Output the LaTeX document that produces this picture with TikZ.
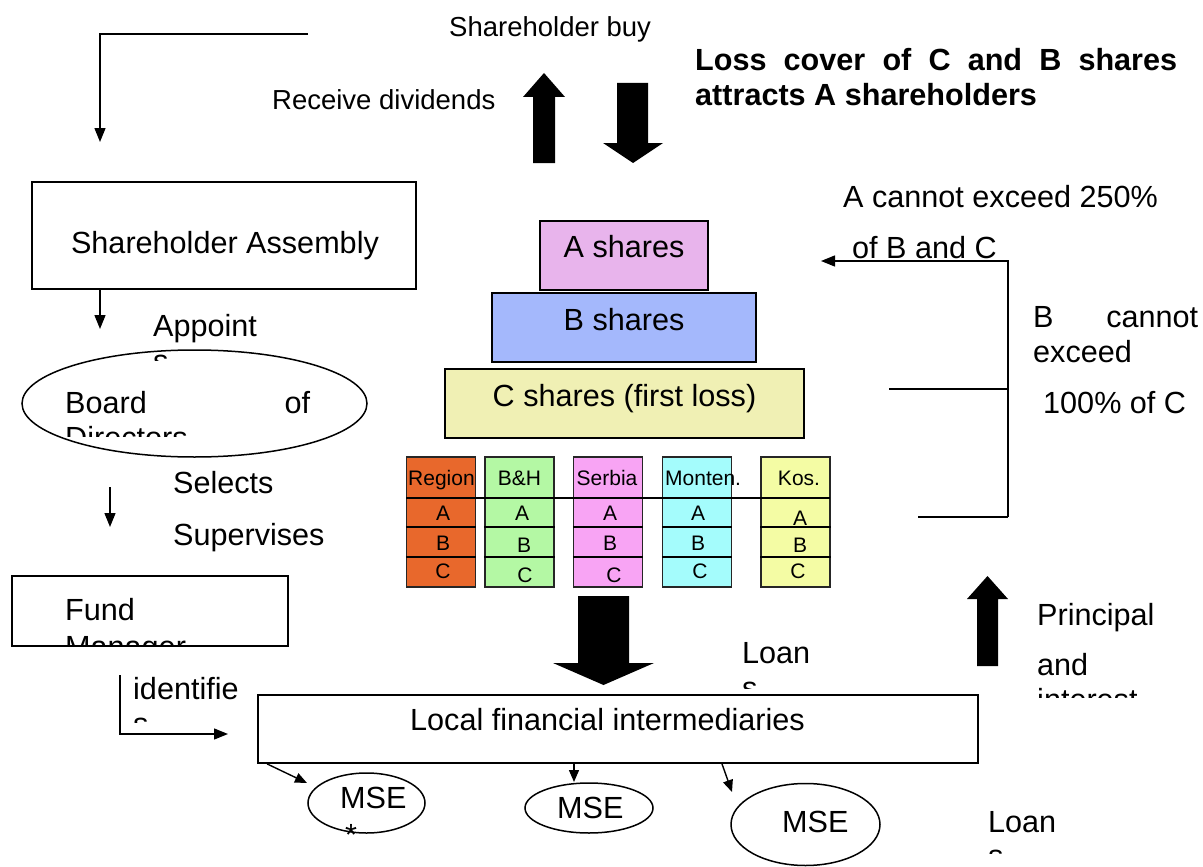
\documentclass[tikz,border=0pt]{standalone}
\usepackage{fontspec}
\setmainfont{Liberation Sans}
\usetikzlibrary{arrows.meta,shapes.geometric}
\definecolor{ashare}{HTML}{E8B4EC}
\definecolor{bshare}{HTML}{A4B8FC}
\definecolor{cshare}{HTML}{F0F0B4}
\definecolor{regcol}{HTML}{E8682C}
\definecolor{bhcol}{HTML}{B4F8A4}
\definecolor{srbcol}{HTML}{F8A4F4}
\definecolor{mntcol}{HTML}{A4FCFC}
\definecolor{koscol}{HTML}{F4FCA4}
\begin{document}
\begin{tikzpicture}[x=1pt,y=-1pt,
  txt/.style={inner sep=0pt, anchor=base west, font=\fontsize{30.6}{35}\selectfont},
  ctxt/.style={inner sep=0pt, anchor=base, font=\fontsize{30.6}{35}\selectfont},
  smalltxt/.style={inner sep=0pt, anchor=base west, font=\fontsize{27.5}{32}\selectfont},
  celltxt/.style={inner sep=0pt, anchor=base, font=\fontsize{21}{24}\selectfont},
  box/.style={draw=black, line width=1.8pt, inner sep=0pt, rectangle},
  oval/.style={draw=black, line width=1.5pt, inner sep=0pt, ellipse},
  colbox/.style={draw=black!85, line width=1.5pt, inner sep=0pt, rectangle, minimum width=69pt, minimum height=130pt},
  conn/.style={draw=black, line width=1.4pt},
  tip/.style={-{Triangle[width=11pt,length=14pt]}},
  tipsmall/.style={-{Triangle[width=10pt,length=12pt]}},
  blockarrow/.style={fill=black},
]
\useasboundingbox (0,0) rectangle (1203,867);
\fill[white] (0,0) rectangle (1203,867);

% ---------- top ----------
\coordinate (tlstart) at (308,34);
\coordinate (tlend) at (100,142);
\draw[conn,tip] (tlstart) -| (tlend);

\node[smalltxt] (shbuy) at (449,37) {Shareholder buy};
\node[smalltxt] (recdiv) at (272,110) {Receive dividends};

\fill[blockarrow] (533,163) -- (533,97) -- (523,97) -- (544,73) -- (565,97) -- (555,97) -- (555,163) -- cycle;
\fill[blockarrow] (617,83) -- (648,83) -- (648,143) -- (663,143) -- (633,163) -- (603,143) -- (617,143) -- cycle;

\node[txt] (loss1) at (695,71) {\bfseries\makebox[482pt]{Loss\hfill cover\hfill of\hfill C\hfill and\hfill B\hfill shares}};
\node[txt] (loss2) at (695,106) {\bfseries attracts A shareholders};

% ---------- left column ----------
\node[box, minimum width=384pt, minimum height=107pt] (sa) at (224,235.5) {};
\node[ctxt] (satxt) at (225,253) {Shareholder Assembly};

\coordinate (append) at (100,329);
\draw[conn,tip] (sa.south -| append) -- (append);
\node[txt] (appoint) at (153,336) {Appoint};
\begin{scope}
  \clip (145,345) rectangle (200,360);
  \node[txt] (appoints) at (153,371) {s};
\end{scope}

\node[oval, minimum width=345pt, minimum height=107pt] (bod) at (194.5,403.5) {};
\node[txt] (bodtxt) at (65,413) {\makebox[245pt]{Board\hfill of}};
\begin{scope}
  \clip (60,420) rectangle (300,436);
  \node[txt] (bodtxt2) at (65,448) {Directors};
\end{scope}

\node[txt] (selects) at (173,493) {Selects};
\node[txt] (supervises) at (173,545) {Supervises};
\coordinate (selstart) at (110,487);
\coordinate (selend) at (110,527);
\draw[conn,tip] (selstart) -- (selend);

\begin{scope}
  \clip (60,625) rectangle (288,645);
  \node[txt] (fmtxt2) at (65,657) {Manager};
\end{scope}
\node[box, minimum width=276pt, minimum height=70pt] (fm) at (150,611) {};
\node[txt] (fmtxt) at (65,620) {Fund};

\node[txt] (ident) at (133,699) {identifie};
\begin{scope}
  \clip (128,710) rectangle (165,722);
  \node[txt] (ident2) at (133,734) {s};
\end{scope}
\coordinate (idstart) at (120,675);
\coordinate (idend) at (228,734);
\draw[conn,tip] (idstart) |- (idend);

% ---------- bottom ----------
\node[box, minimum width=720pt, minimum height=68pt] (lfi) at (618,729) {};
\node[txt] (lfitxt) at (410,730) {Local financial intermediaries};

\node[oval, minimum width=117pt, minimum height=60pt] (mse1) at (366.5,803) {};
\node[txt] (mse1txt) at (340,808) {MSE};
\node[txt] (mse1star) at (345,845) {*};
\node[oval, minimum width=128pt, minimum height=50pt] (mse2) at (589,808) {};
\node[txt] (mse2txt) at (557,818) {MSE};
\node[oval, minimum width=149pt, minimum height=82pt] (mse3) at (805.5,824.5) {};
\node[txt] (mse3txt) at (782,832) {MSE};

\coordinate (m1tip) at (307,783);
\coordinate (m2tip) at (574,782);
\coordinate (m3tip) at (732,792);
\draw[conn,tipsmall] ([xshift=10pt]lfi.south west) -- (m1tip);
\draw[conn,tipsmall] (lfi.south -| m2tip) -- (m2tip);
\draw[conn,tipsmall] (lfi.south -| 722,0) -- (m3tip);

\fill[blockarrow] (578,596) -- (629,596) -- (629,663) -- (654,663) -- (603.5,685) -- (553,663) -- (578,663) -- cycle;

\node[txt] (loan1) at (742,663) {Loan};
\begin{scope}
  \clip (738,675) rectangle (775,688);
  \node[txt] (loan1s) at (742,698) {s};
\end{scope}
\node[txt] (loan2) at (988,832) {Loan};
\begin{scope}
  \clip (984,840) rectangle (1020,853);
  \node[txt] (loan2s) at (988,866) {s};
\end{scope}

\fill[blockarrow] (977,666) -- (977,599) -- (967,599) -- (987.5,576) -- (1008,599) -- (998,599) -- (998,666) -- cycle;
\node[txt] (princ) at (1037,625) {Principal};
\node[txt] (pand) at (1037,675) {and};
\begin{scope}
  \clip (1030,680) rectangle (1160,697);
  \node[txt] (pint) at (1037,710) {interest};
\end{scope}

% ---------- pyramid ----------
\node[box, fill=ashare, minimum width=168pt, minimum height=69pt] (ash) at (624,255.5) {};
\node[ctxt] (ashtxt) at (624,257) {A shares};
\node[box, fill=bshare, minimum width=264pt, minimum height=69pt] (bsh) at (624,327.5) {};
\node[ctxt] (bshtxt) at (624,330) {B shares};
\node[box, fill=cshare, minimum width=359pt, minimum height=69pt] (csh) at (624.5,403.5) {};
\node[ctxt] (cshtxt) at (624.5,406) {C shares (first loss)};

% ---------- country columns ----------
\node[colbox, fill=regcol] (reg) at (441,522) {};
\node[colbox, fill=bhcol] (bh) at (519.5,522) {};
\node[colbox, fill=srbcol] (srb) at (608,522) {};
\node[colbox, fill=mntcol] (mnt) at (697,522) {};
\node[colbox, fill=koscol] (kos) at (795.5,522) {};
\foreach \c in {reg,bh,srb,mnt,kos}{
  \draw[line width=1.5pt] (\c.west |- 0,527) -- (\c.east |- 0,527);
  \draw[line width=1.5pt] (\c.west |- 0,557) -- (\c.east |- 0,557);
}
\coordinate (hl1) at (406,498);
\coordinate (hl2) at (830,498);
\draw[line width=1.6pt] (hl1) -- (hl2);

\node[celltxt, anchor=base west] (regh) at (408,485) {Region};
\node[celltxt] (bhh) at (519.5,485) {B\&H};
\node[celltxt] (srbh) at (607,485) {Serbia};
\node[celltxt, anchor=base west] (mnth) at (665,485) {Monten.};
\node[celltxt] (kosh) at (799,485) {Kos.};

\node[celltxt] (rega) at (443,520) {A};
\node[celltxt] (regb) at (443,550) {B};
\node[celltxt] (regc) at (443,578) {C};
\node[celltxt] (bha) at (522,520) {A};
\node[celltxt] (bhb) at (524,552) {B};
\node[celltxt] (bhc) at (525,582) {C};
\node[celltxt] (srba) at (610,520) {A};
\node[celltxt] (srbb) at (610,550) {B};
\node[celltxt] (srbc) at (614,582) {C};
\node[celltxt] (mnta) at (698,520) {A};
\node[celltxt] (mntb) at (698,550) {B};
\node[celltxt] (mntc) at (700,578) {C};
\node[celltxt] (kosa) at (800,525) {A};
\node[celltxt] (kosb) at (800,552) {B};
\node[celltxt] (kosc) at (798,578) {C};

% ---------- right side ----------
\node[txt] (acan) at (843,207) {A cannot exceed 250\%};
\node[txt] (aofbc) at (852,258) {of B and C};
\coordinate (brtop) at (1008,261);
\coordinate (brtip) at (821,261);
\coordinate (brbot) at (1008,517);
\coordinate (brmidl) at (889,389);
\coordinate (brbotl) at (918,517);
\draw[conn,tip] (brbot) -- (brtop) -- (brtip);
\draw[conn] (brmidl) -- (brmidl -| brtop);
\draw[conn] (brbotl) -- (brbot);

\node[txt] (bcan) at (1033,327) {\makebox[165pt]{B\hfill cannot}};
\node[txt] (bexc) at (1033,362) {exceed};
\node[txt] (b100) at (1043,413) {100\% of C};

\end{tikzpicture}
\end{document}
